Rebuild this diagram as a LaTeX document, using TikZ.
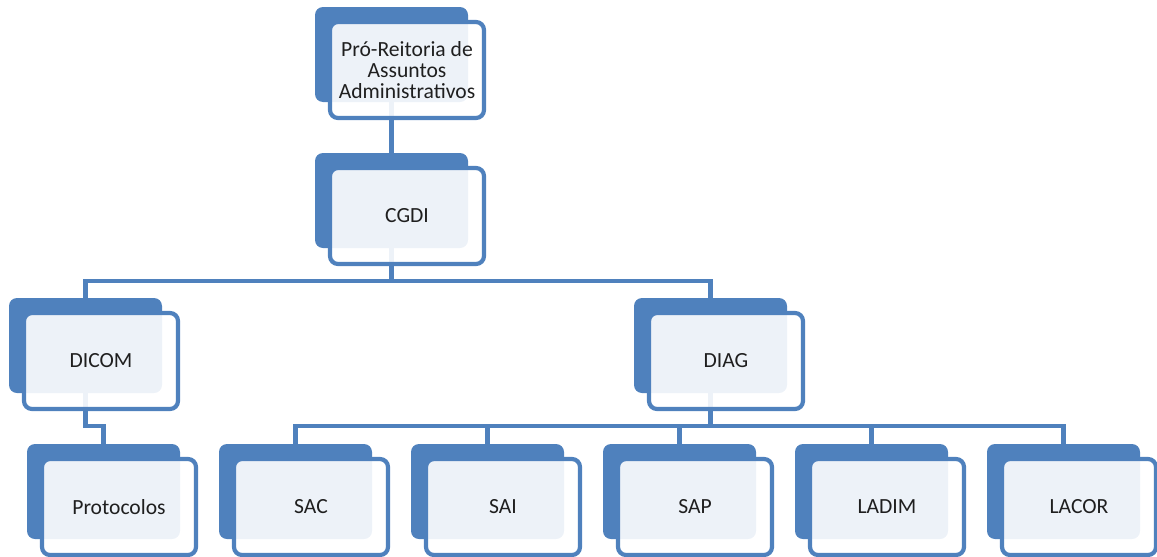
\documentclass[tikz,border=0pt]{standalone}
\usepackage{fontspec}
\setmainfont{Carlito}
\definecolor{accent}{HTML}{4F81BD}
\definecolor{txt}{HTML}{1F1F1F}
\tikzset{
  backbox/.style={anchor=north west, fill=accent, draw=none, rounded corners=8pt,
    minimum width=153pt, minimum height=95pt, inner sep=0pt, outer sep=0pt},
  frontbox/.style={anchor=north west, draw=accent, line width=4.2pt, fill=white,
    fill opacity=0.9, text opacity=1, rounded corners=8pt, text=txt,
    minimum width=154pt, minimum height=96pt, inner sep=0pt, outer sep=0pt,
    align=center, font=\fontsize{21.6}{21}\selectfont},
  conn/.style={draw=accent, line width=4.2pt}
}
\begin{document}
\begin{tikzpicture}[x=1pt,y=-1pt]
\useasboundingbox (0,0) rectangle (1157,557);
% back boxes
\node[backbox] (b1) at (315,7) {};
\node[backbox] (b2) at (315,153) {};
\node[backbox] (b3) at (9,298) {};
\node[backbox] (b5) at (634,298) {};
\node[backbox] (b4) at (27,444) {};
\node[backbox] (b6) at (219,444) {};
\node[backbox] (b7) at (411,444) {};
\node[backbox] (b8) at (603,444) {};
\node[backbox] (b9) at (795,444) {};
\node[backbox] (b10) at (987,444) {};
% bar levels
\coordinate (bar1) at (0,281);
\coordinate (bar2) at (0,426);
% connectors
\draw[conn] (b1.south) -- (b2.north);
\draw[conn] (b2.south) -- (b2.south |- bar1) -| (b3.north);
\draw[conn] (b2.south |- bar1) -| (b5.north);
\draw[conn] (b3.south) -- (b3.south |- bar2) -| (b4.north);
\draw[conn] (b5.south) -- (b5.south |- bar2) -| (b6.north);
\draw[conn] (b5.south |- bar2) -| (b7.north);
\draw[conn] (b5.south |- bar2) -| (b8.north);
\draw[conn] (b5.south |- bar2) -| (b9.north);
\draw[conn] (b5.south |- bar2) -| (b10.north);
% front boxes
\node[frontbox] (f1) at (330,22) {Pró-Reitoria de\\Assuntos\\Administrativos};
\node[frontbox] (f2) at (330,168) {CGDI};
\node[frontbox] (f3) at (24,313) {DICOM};
\node[frontbox] (f5) at (649,313) {DIAG};
\node[frontbox] (f4) at (42,459) {Protocolos};
\node[frontbox] (f6) at (234,459) {SAC};
\node[frontbox] (f7) at (426,459) {SAI};
\node[frontbox] (f8) at (618,459) {SAP};
\node[frontbox] (f9) at (810,459) {LADIM};
\node[frontbox] (f10) at (1002,459) {LACOR};
\end{tikzpicture}
\end{document}
